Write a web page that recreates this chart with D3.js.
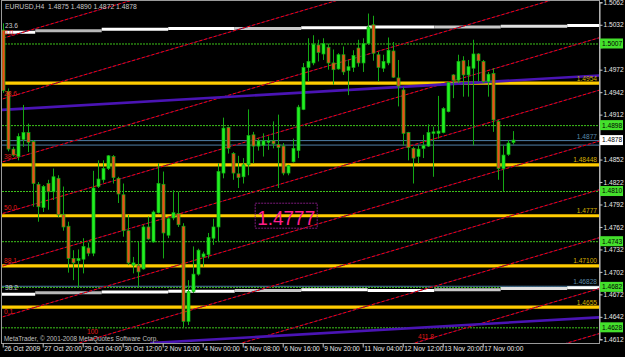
<!DOCTYPE html>
<html><head><meta charset="utf-8">
<script src="https://cdn.jsdelivr.net/npm/d3@7"></script>
<style>body{margin:0;background:#000;}svg{display:block;}</style>
</head><body>
<svg id="c" width="625" height="357"></svg>
<script>
// ---------- DATA ----------
const title = "EURUSD,H4  1.4875 1.4890 1.4872 1.4878";
const copyright = "MetaTrader, \u00A9 2001-2008 MetaQuotes Software Corp.";
const opens  = [1.5025,1.4943,1.4866,1.4856,1.4879,1.4888,1.4876,1.4819,1.4788,1.4820,1.4809,1.4827,1.4779,1.4763,1.4720,1.4717,1.4719,1.4734,1.4727,1.4816,1.4825,1.4840,1.4856,1.4827,1.4805,1.4757,1.4711,1.4711,1.4706,1.4762,1.4742,1.4781,1.4819,1.4751,1.4774,1.4780,1.4763,1.4636,1.4676,1.4699,1.4722,1.4725,1.4747,1.4762,1.4834,1.4895,1.4860,1.4833,1.4829,1.4845,1.4885,1.4870,1.4871,1.4875,1.4877,1.4872,1.4870,1.4834,1.4849,1.4864,1.4919,1.4975,1.4981,1.5005,1.4993,1.5002,1.4981,1.4973,1.4992,1.4971,1.4975,1.5001,1.4981,1.5007,1.5032,1.4992,1.4974,1.4981,1.4997,1.4961,1.4945,1.4888,1.4867,1.4856,1.4867,1.4870,1.4887,1.4887,1.4888,1.4916,1.4965,1.4958,1.4984,1.4965,1.4974,1.4993,1.4983,1.4956,1.4967,1.4903,1.4840,1.4859,1.4875];
const highs  = [1.5034,1.4947,1.4869,1.4887,1.4925,1.4900,1.4878,1.4822,1.4818,1.4825,1.4840,1.4831,1.4816,1.4769,1.4731,1.4732,1.4747,1.4741,1.4837,1.4851,1.4851,1.4858,1.4858,1.4829,1.4820,1.4778,1.4722,1.4742,1.4765,1.4776,1.4784,1.4847,1.4836,1.4775,1.4811,1.4809,1.4767,1.4691,1.4736,1.4733,1.4729,1.4754,1.4773,1.4847,1.4908,1.4896,1.4862,1.4857,1.4854,1.4919,1.4889,1.4880,1.4887,1.4883,1.4903,1.4912,1.4874,1.4845,1.4880,1.4925,1.4981,1.5014,1.5018,1.5012,1.5014,1.5007,1.4999,1.4994,1.5003,1.4985,1.4998,1.5012,1.5014,1.5047,1.5044,1.4996,1.4992,1.5015,1.5009,1.4985,1.4949,1.4889,1.4869,1.4871,1.4885,1.4899,1.4896,1.4937,1.4922,1.4956,1.4966,1.4992,1.4990,1.4985,1.5012,1.4994,1.4985,1.4969,1.4974,1.4905,1.4871,1.4878,1.4890];
const lows   = [1.4941,1.4863,1.4856,1.4851,1.4869,1.4862,1.4789,1.4769,1.4782,1.4785,1.4798,1.4775,1.4757,1.4701,1.4691,1.4682,1.4700,1.4723,1.4723,1.4814,1.4821,1.4838,1.4820,1.4794,1.4749,1.4711,1.4700,1.4682,1.4705,1.4745,1.4741,1.4780,1.4720,1.4747,1.4771,1.4762,1.4628,1.4631,1.4674,1.4697,1.4709,1.4720,1.4738,1.4742,1.4827,1.4860,1.4825,1.4814,1.4820,1.4831,1.4847,1.4864,1.4856,1.4865,1.4867,1.4814,1.4831,1.4831,1.4848,1.4854,1.4918,1.4956,1.4978,1.4983,1.4985,1.4972,1.4952,1.4972,1.4965,1.4938,1.4969,1.4976,1.4969,1.5005,1.4984,1.4956,1.4969,1.4978,1.4961,1.4923,1.4871,1.4851,1.4820,1.4847,1.4854,1.4869,1.4829,1.4880,1.4887,1.4915,1.4934,1.4954,1.4936,1.4936,1.4871,1.4956,1.4954,1.4936,1.4889,1.4825,1.4810,1.4857,1.4872];
const closes = [1.4944,1.4866,1.4858,1.4883,1.4888,1.4875,1.4820,1.4789,1.4816,1.4809,1.4829,1.4778,1.4762,1.4720,1.4714,1.4720,1.4736,1.4727,1.4814,1.4826,1.4840,1.4857,1.4828,1.4806,1.4757,1.4714,1.4714,1.4702,1.4762,1.4746,1.4782,1.4820,1.4754,1.4773,1.4781,1.4765,1.4636,1.4676,1.4699,1.4731,1.4726,1.4748,1.4762,1.4836,1.4894,1.4867,1.4834,1.4828,1.4845,1.4884,1.4870,1.4877,1.4877,1.4877,1.4873,1.4868,1.4834,1.4844,1.4867,1.4922,1.4975,1.4983,1.5006,1.4995,1.5007,1.4981,1.4972,1.4992,1.4969,1.4976,1.4991,1.4981,1.5007,1.5029,1.4994,1.4975,1.4983,1.4998,1.4962,1.4950,1.4887,1.4868,1.4854,1.4866,1.4871,1.4888,1.4889,1.4890,1.4920,1.4955,1.4958,1.4983,1.4965,1.4976,1.4993,1.4984,1.4956,1.4966,1.4905,1.4840,1.4858,1.4874,1.4878];

const priceTicks = [1.5062,1.5032,1.5002,1.4972,1.4942,1.4912,1.4882,1.4852,1.4822,1.4792,1.4762,1.4732,1.4702,1.4672,1.4642,1.4612];
const hiddenTicks = [1.5002,1.4882]; // covered by price boxes in the reference
const timeTickBars = [0,8,16,24,32,40,48,56,64,72,80,88,96];
const timeTickLabels = ["26 Oct 2009","27 Oct 20:00","29 Oct 04:00","30 Oct 12:00","2 Nov 16:00","4 Nov 00:00","5 Nov 08:00","6 Nov 16:00","9 Nov 20:00","11 Nov 04:00","12 Nov 12:00","13 Nov 20:00","17 Nov 00:00"];

// horizontal objects
const goldLevels = [1.4954,1.48448,1.4777,1.4710,1.4655];
const goldLabels = ["1.4954","1.48448","1.4777","1.47100","1.4655"];
const greenLevels = [1.5007,1.4898,1.4810,1.4743,1.4682,1.4628];
const greenLabels = ["1.5007","1.4898","1.4810","1.4743","1.4682","1.4628"];
const blueLevels = [1.4878,1.4872,1.46835];
const blueLabels = ["1.4877","","1.46828"];
const bidPrice = 1.4878, bidLabel = "1.4878";

// stepped white lines
const whiteSegStart = [-1,6.5,19.8,33.1,46.4,59.7,73,86.3,99.6,112.9];
const whiteSegEnd   = [6.5,19.8,33.1,46.4,59.7,73,86.3,99.6,112.9,121];
const whiteTop    = [1.5022,1.5024,1.5026,1.5027,1.5027,1.5028,1.5029,1.5029,1.5030,1.5031];
const whiteBottom = [1.4672,1.4674,1.4675,1.4676,1.4677,1.4678,1.4677,1.4678,1.4680,1.4681];
const whiteShade  = ["#ffffff","#b8b8b8","#ffffff","#ffffff","#c8c8c8","#ffffff","#ffffff","#c8c8c8","#e0e0e0","#ffffff"];
const whiteLabels = ["23.6","38.2"];

// purple parallel lines (bar, price)
const purpleTop = [[-1,1.4918],[121,1.4965]];
const purpleBottom = [[29.5,1.4607],[121,1.4642]];

// red dashed channel lines: price at bar 0 and at bar 120
const channelStart = [1.5014,1.4933,1.4849,1.4780,1.4710,1.4642,1.4577,1.4513,1.4445,1.4385];
const channelEnd   = [1.5250,1.5169,1.5085,1.5016,1.4946,1.4878,1.4813,1.4749,1.4681,1.4621];
const channelLabels = ["0.0","23.6","38.2","50.0","88.1","0.1","","","",""];

// text object
const bigLabel = "1.4777", bigLabelBar = 50.5, bigLabelPrice = 1.4763;

// ---------- DRAW ----------
const svg = d3.select("#c");
const W = 625, H = 357;
const plotL = 2, plotR = 599, plotT = 1, plotB = 343;
const x = d3.scaleLinear().domain([0, 102]).range([2.7, 512.7]);
const y = d3.scaleLinear().domain([1.4612, 1.5062]).range([339.3, 2.3]);
const FONT = "Liberation Sans, Arial, sans-serif";

svg.append("rect").attr("width", W).attr("height", H).attr("fill", "#000");
svg.append("defs").append("clipPath").attr("id","clip")
  .append("rect").attr("x", plotL).attr("y", plotT).attr("width", plotR-plotL).attr("height", plotB-plotT);
const g = svg.append("g").attr("clip-path","url(#clip)");

// green dotted levels
g.selectAll(".gl").data(greenLevels).enter().append("line")
  .attr("x1", plotL).attr("x2", plotR).attr("y1", d=>y(d)+0.5).attr("y2", d=>y(d)+0.5)
  .attr("stroke", "#3ec41a").attr("stroke-width", 1).attr("stroke-dasharray", "2,1");

// blue levels
g.selectAll(".bl").data(blueLevels).enter().append("line")
  .attr("x1", plotL).attr("x2", plotR).attr("y1", d=>y(d)+0.5).attr("y2", d=>y(d)+0.5)
  .attr("stroke", "#4f7ea6").attr("stroke-width", 1);

// gold levels
g.selectAll(".gd").data(goldLevels).enter().append("line")
  .attr("x1", plotL).attr("x2", plotR).attr("y1", d=>y(d)).attr("y2", d=>y(d))
  .attr("stroke", "#ffcc00").attr("stroke-width", 3.2);

// white stepped lines
[whiteTop, whiteBottom].forEach(arr => {
  g.selectAll(null).data(arr).enter().append("line")
    .attr("x1", (d,i)=>x(whiteSegStart[i])).attr("x2", (d,i)=>x(whiteSegEnd[i]))
    .attr("y1", d=>y(d)).attr("y2", d=>y(d))
    .attr("stroke", (d,i)=>whiteShade[i]).attr("stroke-width", 3);
});

// red channel lines
g.selectAll(".ch").data(channelStart).enter().append("line")
  .attr("x1", x(0)).attr("x2", x(120)).attr("y1", d=>y(d)).attr("y2", (d,i)=>y(channelEnd[i]))
  .attr("stroke", "#3a0a50").attr("stroke-width", 1);
g.selectAll(".ch2").data(channelStart).enter().append("line")
  .attr("x1", x(0)).attr("x2", x(120)).attr("y1", d=>y(d)).attr("y2", (d,i)=>y(channelEnd[i]))
  .attr("stroke", "#ff0000").attr("stroke-width", 1).attr("stroke-dasharray", "3,2");

// purple lines
[purpleTop, purpleBottom].forEach(p => {
  g.append("line").attr("x1", x(p[0][0])).attr("y1", y(p[0][1]))
    .attr("x2", x(p[1][0])).attr("y2", y(p[1][1]))
    .attr("stroke", "#4a14b4").attr("stroke-width", 2.6);
});

// candles
const idx = d3.range(opens.length);
g.selectAll(".wick").data(idx).enter().append("line")
  .attr("x1", i=>Math.round(x(i))+0.5).attr("x2", i=>Math.round(x(i))+0.5)
  .attr("y1", i=>y(highs[i])).attr("y2", i=>y(lows[i]))
  .attr("stroke", "#14a814").attr("stroke-width", 1);
g.selectAll(".body").data(idx).enter().append("rect")
  .attr("x", i=>Math.round(x(i))-1)
  .attr("width", 3)
  .attr("y", i=>y(Math.max(opens[i], closes[i])))
  .attr("height", i=>Math.max(1, Math.abs(y(opens[i]) - y(closes[i]))))
  .attr("fill", i=> closes[i] >= opens[i] ? "#22f022" : "#f04a1a")
  .attr("stroke", "#12b012").attr("stroke-width", 0.7);

// in-plot labels
const lbl = g.append("g").attr("font-family", FONT).attr("font-size", 6.6).attr("text-anchor", "end");
lbl.selectAll(null).data(goldLevels).enter().append("text")
  .attr("x", plotR-2).attr("y", d=>y(d)-2.5).attr("fill", "#d4b000").text((d,i)=>goldLabels[i]);
lbl.selectAll(null).data(blueLevels.map((d,i)=>[d,blueLabels[i]]).filter(d=>d[1])).enter().append("text")
  .attr("x", plotR-2).attr("y", d=>y(d[0])-1.5).attr("fill", "#5a8aa8").text(d=>d[1]);

// left labels
const ll = g.append("g").attr("font-family", FONT).attr("font-size", 6.6);
ll.selectAll(null).data(channelStart.map((d,i)=>[d,channelLabels[i]]).filter(d=>d[1])).enter().append("text")
  .attr("x", 4).attr("y", d=>y(d[0])-3).attr("fill", "#e01818").text(d=>d[1]);
ll.selectAll(null).data([whiteTop[0], whiteBottom[0]]).enter().append("text")
  .attr("x", 5).attr("y", d=>y(d)-4).attr("fill", "#c8c8c8").text((d,i)=>whiteLabels[i]);
ll.append("text").attr("x", 87).attr("y", 334).attr("fill", "#e01818").text("100");
ll.append("text").attr("x", 418).attr("y", 339).attr("fill", "#e01818").text("411.8");

// big text object
const bx = x(bigLabelBar), by = y(bigLabelPrice);
g.append("rect").attr("x", bx).attr("y", by-23).attr("width", 62).attr("height", 25)
  .attr("fill", "none").attr("stroke", "#7a1a7a").attr("stroke-width", 1).attr("stroke-dasharray", "2,1");
g.append("text").attr("x", bx+2).attr("y", by-1).attr("font-family", FONT).attr("font-size", 20)
  .attr("textLength", 58).attr("lengthAdjust", "spacingAndGlyphs")
  .attr("fill", "#ff1e8c").text(bigLabel);

// title & copyright
svg.append("text").attr("x", 5).attr("y", 9).attr("font-family", FONT).attr("font-size", 6.8)
  .attr("fill", "#c8c8c8").style("white-space","pre").text(title);
svg.append("text").attr("x", 4).attr("y", 341).attr("font-family", FONT).attr("font-size", 6.4)
  .attr("fill", "#c0c0c0").text(copyright);

// frame
svg.append("rect").attr("x", plotL-0.5).attr("y", plotT-0.5).attr("width", plotR-plotL+1).attr("height", plotB-plotT+1)
  .attr("fill", "none").attr("stroke", "#9a9a9a").attr("stroke-width", 1);

// right axis
const yAxis = d3.axisRight(y).tickValues(priceTicks).tickSize(3)
  .tickFormat(d => hiddenTicks.includes(d) ? "" : d3.format(".4f")(d));
const ya = svg.append("g").attr("transform", `translate(${plotR+0.5},0)`).call(yAxis);
ya.select(".domain").attr("stroke", "#c8c8c8");
ya.selectAll(".tick line").attr("stroke", "#c8c8c8");
ya.selectAll(".tick text").attr("fill", "#e8e8e8").attr("font-family", FONT).attr("font-size", 6.6).attr("x", 4);

// bottom axis
const xAxis = d3.axisBottom(x).tickValues(timeTickBars).tickSize(4).tickFormat((d,i)=>timeTickLabels[i]);
const xa = svg.append("g").attr("transform", `translate(0,${plotB+0.5})`).call(xAxis);
xa.select(".domain").remove();
xa.selectAll(".tick line").attr("stroke", "#c8c8c8");
xa.selectAll(".tick text").attr("fill", "#e8e8e8").attr("font-family", FONT).attr("font-size", 6.6)
  .attr("text-anchor", "start").attr("x", 1).attr("y", 2.5);

// price boxes on right axis
const boxes = svg.append("g").attr("font-family", FONT).attr("font-size", 6.6);
greenLevels.forEach((p,i) => {
  boxes.append("rect").attr("x", plotR+1).attr("y", y(p)-5).attr("width", 23).attr("height", 10).attr("fill", "#44e02c");
  boxes.append("text").attr("x", plotR+3).attr("y", y(p)+2.4).attr("fill", "#000").text(greenLabels[i]);
});
boxes.append("rect").attr("x", plotR+1).attr("y", y(bidPrice)-5).attr("width", 23).attr("height", 10).attr("fill", "#ffffff");
boxes.append("text").attr("x", plotR+3).attr("y", y(bidPrice)+2.4).attr("fill", "#000").text(bidLabel);
</script>
</body></html>
